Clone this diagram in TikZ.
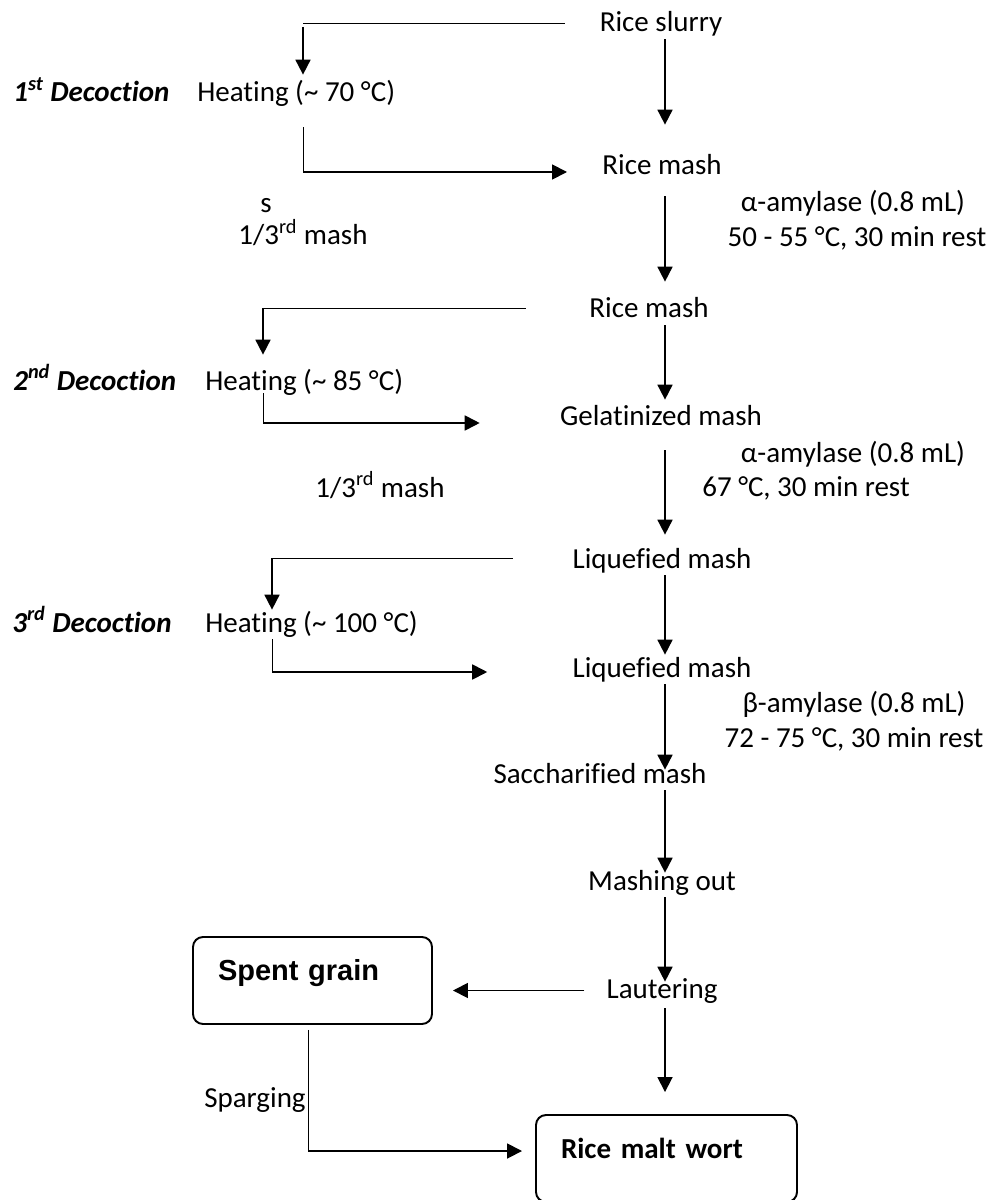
\documentclass[tikz,border=0pt]{standalone}
\usepackage{fontspec}
\setmainfont{Carlito}[Ligatures=NoCommon]
\newfontfamily\arialfont{Liberation Sans}
\usetikzlibrary{arrows.meta}

\begin{document}
\begin{tikzpicture}[x=0.2mm, y=-0.2mm,
    font=\fontsize{16.5}{20}\selectfont,
    txt/.style={anchor=base, inner sep=0pt, text height=4.4mm, text depth=1.4mm},
    arr/.style={-{Triangle[length=3mm, width=3mm]}, line width=1pt},
    thinline/.style={line width=0.55pt},
    box/.style={draw, line width=1.1pt, rounded corners=2mm, inner xsep=5mm, inner ysep=0pt,
      text width=#1, align=left, minimum height=17.4mm, text height=2.9mm, text depth=2.9mm}]
    \useasboundingbox (0,0) rectangle (992,1200);

    % main line
    \node[txt] (slurry) at (661,32) {Rice slurry};
    \node[txt] (mashA) at (662,175) {Rice mash};
    \node[txt] (amyA) at (853,212) {α-amylase (0.8 mL)};
    \node[txt] (restA) at (857,247) {50 - 55 °C, 30 min rest};
    \node[txt] (mashB) at (649,318) {Rice mash};
    \node[txt] (gel) at (661,425) {Gelatinized mash};
    \node[txt] (amyB) at (853,462) {α-amylase (0.8 mL)};
    \node[txt] (restB) at (806,496) {67 °C, 30 min rest};
    \node[txt] (liqA) at (662,568) {Liquefied mash};
    \node[txt] (liqB) at (662,677) {Liquefied mash};
    \node[txt] (amyC) at (854,712) {β-amylase (0.8 mL)};
    \node[txt] (restC) at (854,747) {72 - 75 °C, 30 min rest};
    \node[txt] (sacch) at (600,783) {Saccharified mash};
    \node[txt] (mashout) at (662,890) {Mashing out};
    \node[txt] (lauter) at (662,998) {Lautering};
    \node[box=37.8mm] (spent) at (312.5,980.5) {\arialfont\bfseries Spent grain};
    \node[box=42.2mm] (wort) at (666.5,1158.5) {\bfseries Rice malt wort};

    % decoction labels
    \node[txt, anchor=base west] (decA) at (13,102) {\bfseries\itshape 1\textsuperscript{st} Decoction};
    \node[txt, anchor=base west] (heatA) at (197,102) {Heating (\textasciitilde{} 70 °C)};
    \node[txt] (sA) at (266,213) {s};
    \node[txt] (thirdA) at (303,245) {1/3\textsuperscript{rd} mash};
    \node[txt, anchor=base west] (decB) at (13,390) {\bfseries\itshape 2\textsuperscript{nd} Decoction};
    \node[txt, anchor=base west] (heatB) at (205,390) {Heating (\textasciitilde{} 85 °C)};
    \node[txt] (thirdB) at (380,497) {1/3\textsuperscript{rd} mash};
    \node[txt, anchor=base west] (decC) at (12,632) {\bfseries\itshape 3\textsuperscript{rd} Decoction};
    \node[txt, anchor=base west] (heatC) at (205,632) {Heating (\textasciitilde{} 100 °C)};
    \node[txt, anchor=base east] (sparge) at (306,1107) {Sparging};

    \coordinate (col) at (665,0);
    \coordinate (kA) at (303,23);
    \coordinate (rA) at (303,172);
    \coordinate (kB) at (263,308);
    \coordinate (rB) at (263,423);
    \coordinate (kC) at (272,558);
    \coordinate (rC) at (272,672);
    \coordinate (sp) at (308,1151);

    % mashing steps
    \draw[arr, shorten >=5.6mm] (slurry.south -| col) -- (mashA.north -| col);
    \draw[arr, shorten <=2.8mm, shorten >=2.8mm] (mashA.south -| col) -- (mashB.north -| col);
    \draw[arr, shorten >=0.6mm] (mashB.south -| col) -- (gel.north -| col);
    \draw[arr, shorten <=3.6mm, shorten >=2.2mm] (gel.south -| col) -- (liqA.north -| col);
    \draw[arr] (liqA.south -| col) -- (liqB.north -| col);
    \draw[arr, shorten >=-1.8mm] (liqB.south -| col) -- (sacch.north -| col);
    \draw[arr, shorten >=-1mm] (sacch.south -| col) -- (mashout.north -| col);
    \draw[arr, shorten >=-1.2mm] (mashout.south -| col) -- (lauter.north -| col);
    \draw[arr, shorten <=0.6mm, shorten >=4.4mm] (lauter.south -| col) -- (wort.north -| col);
    \draw[arr, shorten <=4.4mm, shorten >=4mm] (lauter.west) -- (lauter.west -| spent.east);

    % 1st decoction
    \draw[thinline, shorten >=6.8mm] (kA) -- (kA -| slurry.west);
    \draw[arr, shorten <=0.8mm, shorten >=1mm] (kA) -- (kA |- heatA.north);
    \draw[thinline, shorten <=3.6mm] (heatA.south -| rA) -- (rA);
    \draw[arr, shorten >=7mm] (rA) -- (rA -| mashA.west);

    % 2nd decoction
    \draw[thinline, shorten >=12.6mm] (kB) -- (kB -| mashB.west);
    \draw[arr, shorten >=2.6mm] (kB) -- (kB |- heatB.north);
    \draw[thinline, shorten <=-0.8mm] (heatB.south -| rB) -- (rB);
    \draw[arr, shorten >=16mm] (rB) -- (rB -| gel.west);

    % 3rd decoction
    \draw[thinline, shorten >=11.8mm] (kC) -- (kC -| liqA.west);
    \draw[arr] (kC) -- (kC |- heatC.north);
    \draw[thinline] (heatC.south -| rC) -- (rC);
    \draw[arr, shorten >=17mm] (rC) -- (rC -| liqB.west);

    % sparging
    \draw[thinline, shorten <=1mm] (spent.south -| sp) -- (sp);
    \draw[arr, shorten >=2.6mm] (sp) -- (sp -| wort.west);
\end{tikzpicture}
\end{document}
